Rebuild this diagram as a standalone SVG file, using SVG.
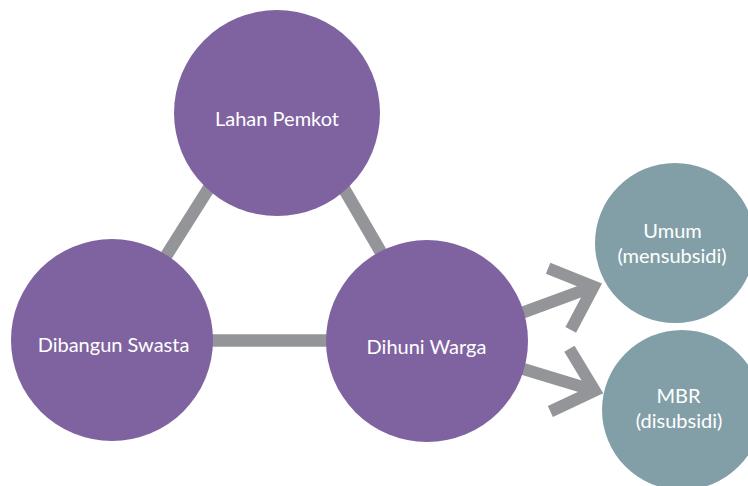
<svg xmlns="http://www.w3.org/2000/svg" width="748" height="486" viewBox="0 0 748 486">
<style>
.bar{stroke:#939598;stroke-width:12.5;fill:none;stroke-linecap:butt}
.arr{stroke:#939598;stroke-width:12;fill:none;stroke-linecap:butt;stroke-linejoin:miter;stroke-miterlimit:10}
.p{fill:#7F63A1}
.t{fill:#829FA8}
text{fill:#ffffff;font-family:Lato,"Open Sans","Liberation Sans",sans-serif;font-size:20px;text-anchor:middle}
</style>
<rect width="748" height="486" fill="#ffffff"/>
<g id="connectors">
<line class="bar" x1="279" y1="77" x2="113" y2="340"/>
<line class="bar" x1="279" y1="77" x2="432" y2="340"/>
<line class="bar" x1="112" y1="340.5" x2="427" y2="340.5"/>
<g transform="translate(593.6,286.5) rotate(-20.2)">
<line class="arr" x1="-100" y1="0" x2="-4" y2="0"/>
<polyline class="arr" points="-36.4,-32.8 0,0 -36.4,32.8"/>
</g>
<g transform="translate(594.7,390.7) rotate(16.9)">
<line class="arr" x1="-100" y1="0" x2="-4" y2="0"/>
<polyline class="arr" points="-36.4,-32.8 0,0 -36.4,32.8"/>
</g>
</g>
<g id="lahan-pemkot">
<circle class="p" cx="277" cy="113" r="103"/>
<text x="277" y="126">Lahan Pemkot</text>
</g>
<g id="dibangun-swasta">
<circle class="p" cx="112" cy="340" r="101"/>
<text x="113.5" y="352">Dibangun Swasta</text>
</g>
<g id="dihuni-warga">
<circle class="p" cx="427" cy="341" r="101"/>
<text x="426.5" y="354">Dihuni Warga</text>
</g>
<g id="umum">
<circle class="t" cx="675" cy="243" r="80"/>
<text x="672.5" y="238">Umum</text>
<text x="672" y="263">(mensubsidi)</text>
</g>
<g id="mbr">
<circle class="t" cx="682" cy="410" r="80"/>
<text x="678.5" y="403">MBR</text>
<text x="679" y="428">(disubsidi)</text>
</g>
</svg>
